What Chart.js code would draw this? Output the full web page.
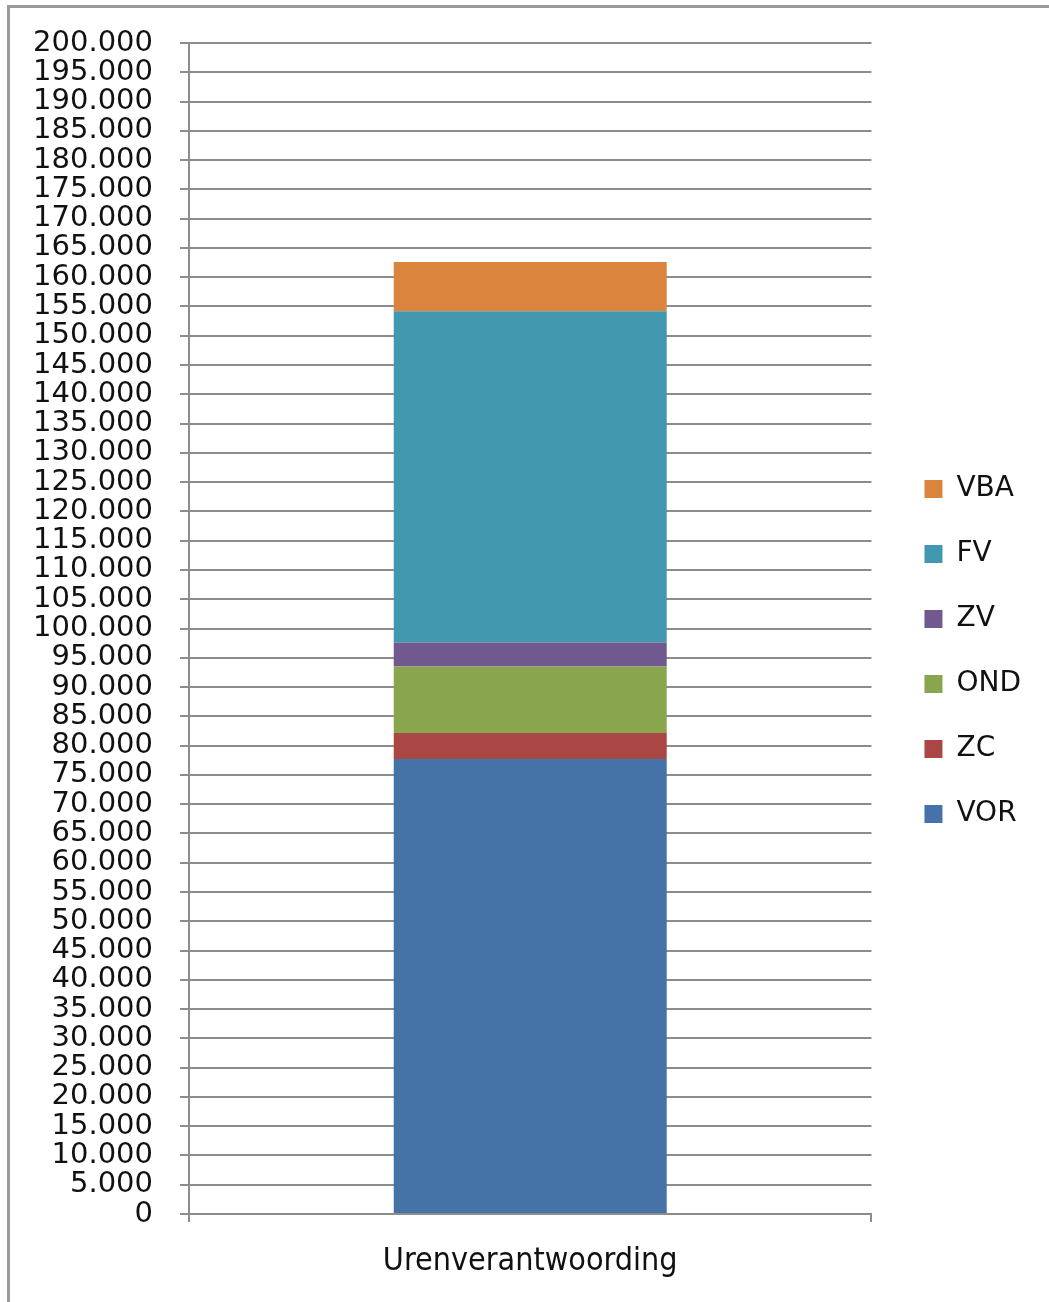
<!DOCTYPE html>
<html>
<head>
<meta charset="utf-8">
<script src="https://cdn.jsdelivr.net/npm/chart.js@4"></script>
<style>
  body { margin: 0; background: #fff; }
  #wrap { position: relative; width: 1049px; height: 1302px; overflow: hidden; }
  #frame { position: absolute; left: 7px; top: 5px; width: 1100px; height: 1400px;
           border-left: 3px solid #9a9a9a; border-top: 3px solid #9a9a9a; }
  canvas { position: absolute; left: 0; top: 0; }
</style>
</head>
<body>
<div id="wrap">
  <div id="frame"></div>
  <canvas id="myChart" width="1049" height="1302"></canvas>
</div>
<script>
// data
const categories = ['Urenverantwoording'];
const seriesNames = ['VOR', 'ZC', 'OND', 'ZV', 'FV', 'VBA'];
const vorValues = [77700];
const zcValues = [4450];
const ondValues = [11350];
const zvValues = [4100];
const fvValues = [56600];
const vbaValues = [8400];
const seriesColors = ['#4572A7', '#AA4643', '#89A54E', '#71588F', '#4198AF', '#DB843D'];

const allValues = [vorValues, zcValues, ondValues, zvValues, fvValues, vbaValues];
const gridColor = '#8c8c8c';

function dots(v) {
  return String(v).replace(/\B(?=(\d{3})+(?!\d))/g, '.');
}

const config = {
  type: 'bar',
  data: {
    labels: categories,
    datasets: seriesNames.map((name, i) => ({
      label: name,
      data: allValues[i],
      backgroundColor: seriesColors[i],
      borderWidth: 0,
      categoryPercentage: 1,
      barPercentage: 0.4
    }))
  },
  options: {
    responsive: false,
    devicePixelRatio: 1,
    animation: false,
    layout: { padding: { left: 0, top: 43, right: 18, bottom: 0 } },
    plugins: {
      tooltip: { enabled: false },
      legend: {
        position: 'right',
        align: 'start',
        reverse: true,
        // empty title only pushes the items down to the middle
        title: { display: true, text: ' ', font: { size: 1, lineHeight: 1 }, padding: { top: 394, bottom: 0 } },
        labels: {
          boxWidth: 18,
          boxHeight: 18,
          padding: 37,
          color: '#111',
          font: { family: 'DejaVu Sans', size: 28 }
        }
      }
    },
    scales: {
      x: {
        stacked: true,
        grid: { drawOnChartArea: false, drawTicks: true, tickLength: 8, color: gridColor, lineWidth: 2 },
        border: { display: true, color: gridColor, width: 2 },
        ticks: { color: '#111', padding: 20, font: { family: 'DejaVu Sans Condensed', size: 32 } },
        afterFit: (s) => { s.height = 88; }
      },
      y: {
        stacked: true,
        min: 0,
        max: 200000,
        grid: { color: gridColor, lineWidth: 2, tickLength: 9 },
        border: { display: true, color: gridColor, width: 2 },
        ticks: {
          stepSize: 5000,
          autoSkip: false,
          color: '#111',
          padding: 27,
          font: { family: 'DejaVu Sans', size: 29, lineHeight: 1 },
          callback: (v) => dots(v)
        },
        afterFit: (s) => { s.width = 189; }
      },
      gap: {
        position: 'right',
        display: true,
        grid: { display: false },
        border: { display: false },
        ticks: { display: false },
        afterFit: (s) => { s.width = 16; }
      }
    }
  }
};

var ctx = document.getElementById('myChart').getContext('2d');
var grafica = new Chart(ctx, config);
</script>
</body>
</html>
